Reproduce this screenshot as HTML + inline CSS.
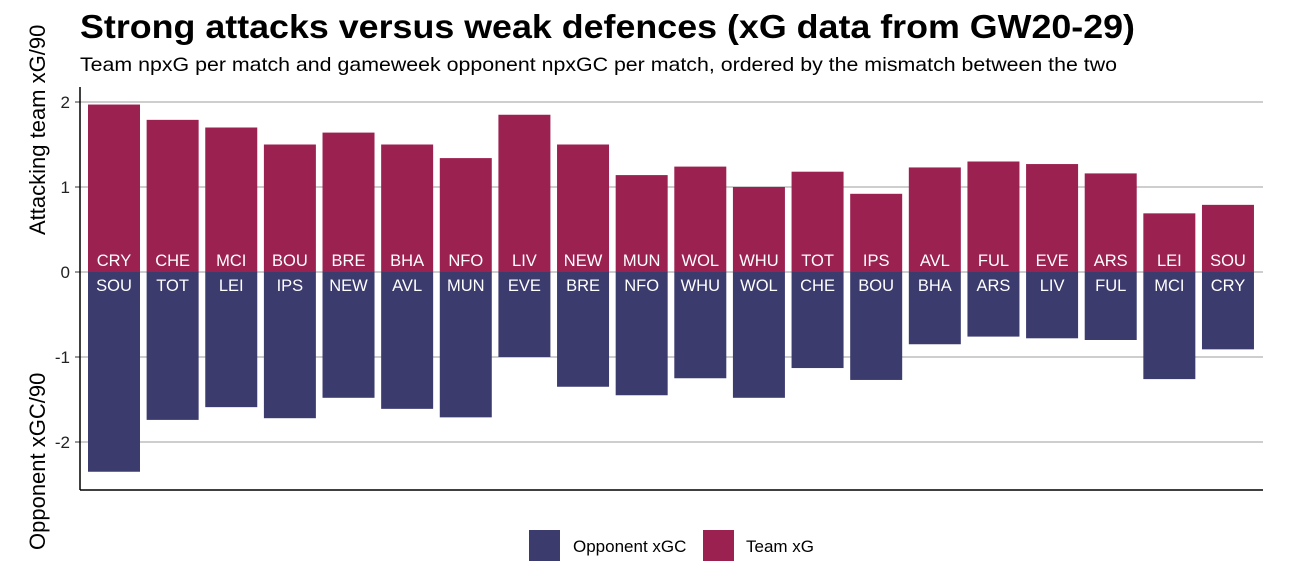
<!DOCTYPE html>
<html><head><meta charset="utf-8"><style>
body{margin:0;background:#fff;font-family:"Liberation Sans",Arial,sans-serif}
</style></head><body>
<svg id="c" width="1292" height="574" xmlns="http://www.w3.org/2000/svg">
<text x="80" y="38" font-size="33" font-weight="bold" fill="#000" textLength="1055" lengthAdjust="spacingAndGlyphs">Strong attacks versus weak defences (xG data from GW20-29)</text>
<text x="80" y="71" font-size="19.5" fill="#000" textLength="1037" lengthAdjust="spacingAndGlyphs">Team npxG per match and gameweek opponent npxGC per match, ordered by the mismatch between the two</text>
<text transform="translate(45,235) rotate(-90)" text-anchor="start" font-size="22">Attacking team xG/90</text>
<text transform="translate(45,550) rotate(-90)" text-anchor="start" font-size="22">Opponent xGC/90</text>
<g id="grid"></g><g id="bars"></g>
<line x1="80" y1="87" x2="80" y2="490" stroke="#000" stroke-width="1.5"/>
<line x1="80" y1="490" x2="1263" y2="490" stroke="#000" stroke-width="1.5"/>
<g>
<rect x="529" y="530" width="31" height="31" fill="#3c3b6e"/>
<text x="573" y="552" font-size="17">Opponent xGC</text>
<rect x="703" y="530" width="31" height="31" fill="#9b2150"/>
<text x="746" y="552" font-size="17">Team xG</text>
</g>
</svg>
<script>
const teams=["CRY","CHE","MCI","BOU","BRE","BHA","NFO","LIV","NEW","MUN","WOL","WHU","TOT","IPS","AVL","FUL","EVE","ARS","LEI","SOU"];
const opponents=["SOU","TOT","LEI","IPS","NEW","AVL","MUN","EVE","BRE","NFO","WHU","WOL","CHE","BOU","BHA","ARS","LIV","FUL","MCI","CRY"];
const teamXG=[1.97,1.79,1.70,1.50,1.64,1.50,1.34,1.85,1.50,1.14,1.24,1.00,1.18,0.92,1.23,1.30,1.27,1.16,0.69,0.79];
const oppXGC=[2.35,1.74,1.59,1.72,1.48,1.61,1.71,1.00,1.35,1.45,1.25,1.48,1.13,1.27,0.85,0.76,0.78,0.80,1.26,0.91];
const ticks=[-2,-1,0,1,2];
const NS="http://www.w3.org/2000/svg";
const y=v=>272-v*85;
const xc=i=>114+i*58.63;
const bw=52;
const g=document.getElementById('grid'),b=document.getElementById('bars');
function mk(t,a,p){const e=document.createElementNS(NS,t);for(const k in a)e.setAttribute(k,a[k]);p.appendChild(e);return e;}
ticks.forEach(t=>{
 const l=mk('line',{x1:80,x2:1263,y1:y(t),y2:y(t),stroke:'#bdbdbd','stroke-width':1.5},g);
 
 
 const tk=mk('line',{x1:75,x2:80,y1:y(t),y2:y(t),stroke:'#555','stroke-width':1.2},g);
 
 
 const tx=mk('text',{x:70,y:y(t)+6,'text-anchor':'end','font-size':17,fill:'#222'},g);
 
 
 tx.textContent=String(t);
});
teams.forEach((tm,i)=>{
 const r1=mk('rect',{x:xc(i)-bw/2,y:y(teamXG[i]),width:bw,height:y(0)-y(teamXG[i]),fill:'#9b2150'},b);
 
 
 const r2=mk('rect',{x:xc(i)-bw/2,y:y(0),width:bw,height:y(-oppXGC[i])-y(0),fill:'#3c3b6e'},b);
 
 
 const t1=mk('text',{x:xc(i),y:266,'text-anchor':'middle','font-size':16.5,fill:'#fff'},b);
 
 
 t1.textContent=tm;
 const t2=mk('text',{x:xc(i),y:291,'text-anchor':'middle','font-size':16.5,fill:'#fff'},b);
 
 
 t2.textContent=opponents[i];
});
</script>
</body></html>
